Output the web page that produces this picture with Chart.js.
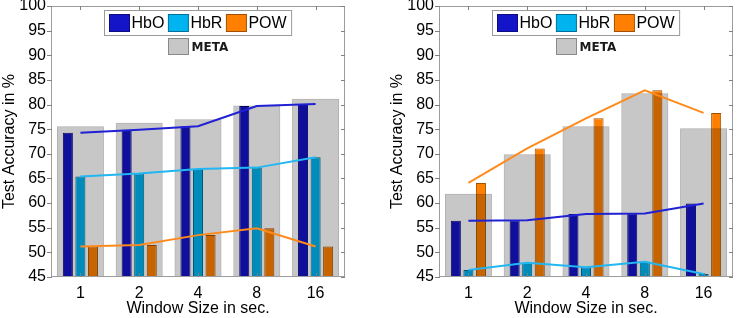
<html>
<head>
<style>
  body { margin: 0; background: #fff; }
  #left { position: absolute; left: 0; top: 0; }
  #right { position: absolute; left: 368px; top: 0; }
</style>
</head>
<body>
  <canvas id="left" width="368" height="318"></canvas>
  <canvas id="right" width="369" height="318"></canvas>

<script src="https://cdn.jsdelivr.net/npm/chart.js@4.4.1/dist/chart.umd.min.js"></script>
<script>
// window sizes (x categories)
const windowSizes = ['1', '2', '4', '8', '16'];
const yMin = 45, yMax = 100, yStep = 5;

// left panel
const hboLeft  = [74.3, 74.9, 75.6, 79.7, 80.1];
const hbrLeft  = [65.4, 66.0, 66.9, 67.2, 69.3];
const powLeft  = [51.2, 51.5, 53.5, 54.9, 51.2];
const metaLeft = [75.6, 76.3, 77.0, 79.8, 81.2];

// right panel
const hboRight  = [56.4, 56.5, 57.8, 57.9, 59.9];
const hbrRight  = [46.4, 47.9, 47.0, 48.1, 45.6];
const powRight  = [64.1, 71.1, 77.2, 82.9, 78.3];
const metaRight = [61.9, 69.9, 75.6, 82.3, 75.2];

const seriesNames = ['HbO', 'HbR', 'POW'];
const metaName = 'META';

// styles
const barColors  = ['#1414c8', '#00b4f0', '#ff8000'];
const barBorders = ['#0c0c80', '#00709a', '#a05000'];
const lineColors = ['#2020d4', '#22b6f2', '#ff8a1c'];
const metaFill = 'rgba(0,0,0,0.22)';
const metaBorder = 'rgba(0,0,0,0.32)';
const FONT = "'Liberation Sans', Arial, sans-serif";

const framePlugin = {
  id: 'frame',
  afterDraw(chart) {
    const ctx = chart.ctx, a = chart.chartArea;
    const x = chart.scales.x, y = chart.scales.y;
    ctx.save();
    ctx.lineWidth = 1;
    ctx.strokeStyle = '#9c9c9c';
    ctx.strokeRect(a.left + 0.5, a.top + 0.5, a.right - a.left - 1, a.bottom - a.top - 1);
    ctx.strokeStyle = '#808080';
    ctx.beginPath();
    y.ticks.forEach(t => {
      const py = Math.round(y.getPixelForValue(t.value)) + 0.5;
      ctx.moveTo(a.left - 4, py); ctx.lineTo(a.left + 1, py);
      ctx.moveTo(a.right - 4, py); ctx.lineTo(a.right, py);
    });
    x.ticks.forEach((t, i) => {
      const px = Math.round(x.getPixelForTick(i)) + 0.5;
      ctx.moveTo(px, a.top); ctx.lineTo(px, a.top + 4);
      ctx.moveTo(px, a.bottom); ctx.lineTo(px, a.bottom - 4);
    });
    ctx.stroke();

    // legend box
    ctx.font = '16px ' + FONT;
    const widths = seriesNames.map(n => ctx.measureText(n).width);
    const boxW = 5 + seriesNames.length * 26 + widths.reduce((s, w) => s + w, 0) - 4 + 5;
    const cx = (a.left + a.right) / 2;
    const bx = Math.round(cx - boxW / 2) + 0.5, by = a.top + 4.5;
    ctx.fillStyle = '#fff';
    ctx.fillRect(bx, by, boxW, 25);
    ctx.strokeStyle = '#9a9a9a';
    ctx.strokeRect(bx, by, boxW, 25);
    let px = bx + 5;
    ctx.textBaseline = 'middle';
    seriesNames.forEach((n, i) => {
      ctx.fillStyle = barColors[i];
      ctx.fillRect(px, by + 4, 20, 17);
      ctx.strokeStyle = barBorders[i];
      ctx.strokeRect(px, by + 4, 20, 17);
      ctx.fillStyle = '#000';
      ctx.fillText(n, px + 22, by + 13);
      px += 26 + widths[i];
    });
    // META entry
    ctx.font = 'bold 12px "DejaVu Sans", sans-serif';
    const mw = ctx.measureText(metaName).width;
    const rowW = 20 + 3 + mw;
    const mx = Math.round(cx - rowW / 2) + 0.5, my = by + 28;
    ctx.fillStyle = '#c7c7c7';
    ctx.fillRect(mx, my, 20, 16);
    ctx.strokeStyle = '#8a8a8a';
    ctx.strokeRect(mx, my, 20, 16);
    ctx.fillStyle = '#1a1a1a';
    ctx.fillText(metaName, mx + 23, my + 9);
    ctx.restore();
  }
};

function makeChart(id, hbo, hbr, pow, meta, padLeft, padRight) {
  const series = [hbo, hbr, pow];
  const datasets = [];
  // every dataset sits on the one x axis, otherwise Chart.js 4.5 splits the slots per axis
  series.forEach((vals, i) => {
    datasets.push({
      type: 'line', label: seriesNames[i] + ' line', data: vals,
      borderColor: lineColors[i], borderWidth: 2, pointRadius: 0, tension: 0, order: 0
    });
  });
  datasets.push({
    type: 'bar', label: metaName, data: meta, grouped: false,
    backgroundColor: metaFill, borderColor: metaBorder, borderWidth: 1,
    categoryPercentage: 0.8, barPercentage: 1.0, order: 1
  });
  series.forEach((vals, i) => {
    datasets.push({
      type: 'bar', label: seriesNames[i], data: vals,
      backgroundColor: barColors[i], borderColor: barBorders[i], borderWidth: 1,
      categoryPercentage: 0.64, barPercentage: 0.8, order: 2
    });
  });

  return new Chart(document.getElementById(id).getContext('2d'), {
    type: 'bar',
    data: { labels: windowSizes, datasets: datasets },
    options: {
      responsive: false,
      animation: false,
      devicePixelRatio: 1,
      layout: { padding: { left: padLeft, right: padRight, top: 6, bottom: 0 } },
      plugins: { legend: { display: false }, tooltip: { enabled: false } },
      scales: {
        x: {
          type: 'category', offset: true,
          grid: { display: false, drawTicks: false }, border: { display: false },
          ticks: { color: '#000', font: { family: FONT, size: 16 }, padding: 7, maxRotation: 0 },
          title: { display: true, text: 'Window Size in sec.', color: '#000',
                   font: { family: FONT, size: 16 }, padding: { top: 0, bottom: 0 } },
          afterFit: s => { s.height = 41; s.paddingLeft = 0; s.paddingRight = 0; }
        },
        y: {
          min: yMin, max: yMax,
          grid: { display: false, drawTicks: false }, border: { display: false },
          ticks: { stepSize: yStep, color: '#000', font: { family: FONT, size: 16 }, padding: 5 },
          title: { display: true, text: 'Test Accuracy in %', color: '#000',
                   font: { family: FONT, size: 16 }, padding: { top: 0, bottom: 0 } },
          afterFit: s => { s.width = 51; s.paddingTop = 0; s.paddingBottom = 0; }
        }
      }
    },
    plugins: [framePlugin]
  });
}

makeChart('left', hboLeft, hbrLeft, powLeft, metaLeft, 0, 23);
makeChart('right', hboRight, hbrRight, powRight, metaRight, 20, 4);
</script>
</body>
</html>
